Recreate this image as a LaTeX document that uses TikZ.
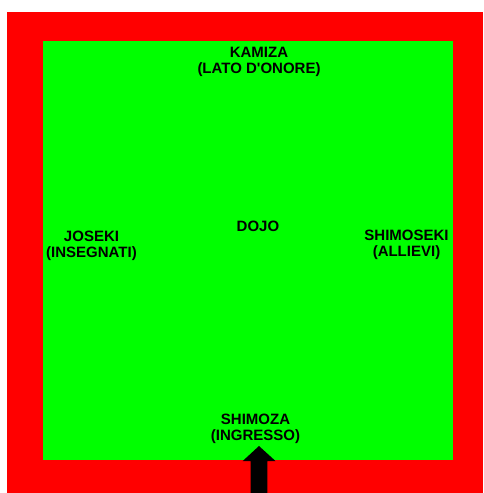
\documentclass[tikz,border=0pt]{standalone}
\usepackage{fontspec}
\setmainfont{Liberation Sans}
\definecolor{wallred}{RGB}{255,0,0}
\definecolor{matgreen}{RGB}{0,255,0}
\begin{document}
\begin{tikzpicture}[x=1pt,y=-1pt,
  lbl/.style={font=\fontsize{15}{16}\selectfont\bfseries, align=center, inner sep=0pt, anchor=base, text=black}]
\useasboundingbox (0,0) rectangle (483,493);
\fill[wallred] (7,12) rectangle (483,493);
\fill[matgreen] (43,41) rectangle (453,460);
\node[lbl] (kamiza) at (259,73) {KAMIZA\\(LATO D\textquotesingle ONORE)};
\node[lbl] (joseki) at (91.5,257.5) {JOSEKI\\(INSEGNATI)};
\node[lbl] (dojo) at (258,231.5) {DOJO};
\node[lbl] (shimoseki) at (406.5,256) {SHIMOSEKI\\(ALLIEVI)};
\node[lbl] (shimoza) at (255.5,440) {SHIMOZA\\(INGRESSO)};
\coordinate (arrowbase) at (259,493);
\coordinate (arrowtip) at (259,446);
\fill[black] (arrowtip) -- (275.5,461) -- (267.3,461) -- (267.3,493) -- (250.7,493) -- (250.7,461) -- (242.7,461) -- cycle;
\end{tikzpicture}
\end{document}
